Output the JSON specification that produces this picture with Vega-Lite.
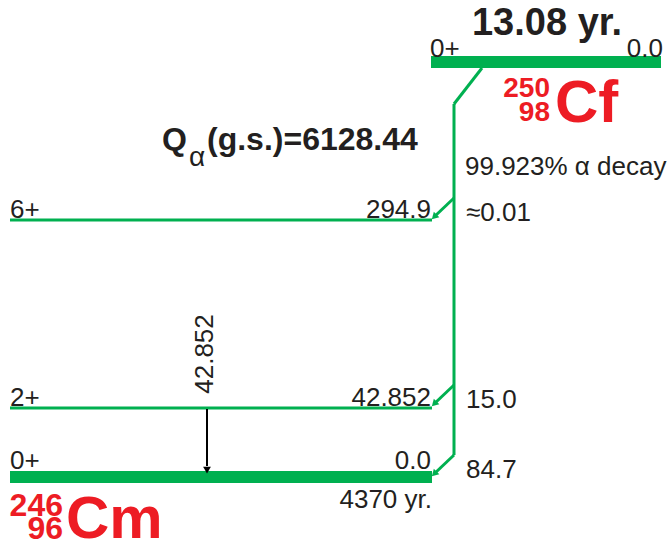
{
  "$schema": "https://vega.github.io/schema/vega-lite/v6.json",
  "width": 671,
  "height": 546,
  "padding": 0,
  "autosize": {"type": "none"},
  "config": {"view": {"stroke": null}, "text": {"font": "Liberation Sans"}},
  "datasets": {
    "levels": [
      {"level": "250Cf 0+", "x1": 431, "x2": 661, "e": 62, "kind": "ground"},
      {"level": "6+", "x1": 10, "x2": 432, "e": 220, "kind": "excited"},
      {"level": "2+", "x1": 10, "x2": 432, "e": 408, "kind": "excited"},
      {"level": "0+", "x1": 10, "x2": 432, "e": 477, "kind": "ground"}
    ],
    "decay": [
      {"x1": 482, "y1": 68, "x2": 454, "y2": 104},
      {"x1": 454, "y1": 104, "x2": 454, "y2": 455},
      {"x1": 454, "y1": 455, "x2": 434, "y2": 474},
      {"x1": 454, "y1": 198, "x2": 434, "y2": 217},
      {"x1": 454, "y1": 385, "x2": 434, "y2": 404}
    ],
    "heads": [
      {"x": 435, "y": 216},
      {"x": 435, "y": 403},
      {"x": 435, "y": 473}
    ],
    "gamma": [{"x": 207, "y1": 409, "y2": 466, "ax": 207, "ay": 469}],
    "leftText": [
      {"t": "0+", "x": 430, "y": 57},
      {"t": "6+", "x": 10, "y": 218},
      {"t": "2+", "x": 10, "y": 406},
      {"t": "0+", "x": 10, "y": 469},
      {"t": "99.923% α decay", "x": 465, "y": 175},
      {"t": "≈0.01", "x": 466, "y": 221},
      {"t": "15.0", "x": 466, "y": 408},
      {"t": "84.7", "x": 466, "y": 478}
    ],
    "rightText": [
      {"t": "0.0", "x": 663, "y": 57},
      {"t": "294.9", "x": 431, "y": 218},
      {"t": "42.852", "x": 431, "y": 406},
      {"t": "0.0", "x": 431, "y": 469},
      {"t": "4370 yr.", "x": 432, "y": 508}
    ],
    "gammaLabel": [{"t": "42.852", "x": 205, "y": 354}],
    "halfLife": [{"t": "13.08 yr.", "x": 547, "y": 35}],
    "qBold": [
      {"t": "Q", "x": 162, "y": 150},
      {"t": "(g.s.)=6128.44", "x": 207, "y": 150}
    ],
    "qSub": [{"t": "α", "x": 189, "y": 166}],
    "symbol": [
      {"t": "Cf", "x": 555, "y": 122},
      {"t": "Cm", "x": 66, "y": 538}
    ],
    "massCf": [
      {"t": "250", "x": 550, "y": 97},
      {"t": "98", "x": 550, "y": 121}
    ],
    "massCm": [
      {"t": "246", "x": 63, "y": 516},
      {"t": "96", "x": 63, "y": 539}
    ]
  },
  "layer": [
    {
      "data": {"name": "levels"},
      "mark": {"type": "rule", "color": "#00b050"},
      "encoding": {
        "x": {"field": "x1", "type": "quantitative", "scale": {"domain": [0, 671], "nice": false, "zero": false}, "axis": null},
        "x2": {"field": "x2"},
        "y": {"field": "e", "type": "quantitative", "scale": {"domain": [0, 546], "nice": false, "zero": false, "reverse": true}, "axis": null},
        "strokeWidth": {"field": "kind", "type": "nominal", "scale": {"domain": ["ground", "excited"], "range": [12, 3]}, "legend": null}
      }
    },
    {
      "data": {"name": "decay"},
      "mark": {"type": "rule", "color": "#00b050", "strokeWidth": 3, "strokeCap": "butt"},
      "encoding": {
        "x": {"field": "x1", "type": "quantitative"},
        "x2": {"field": "x2"},
        "y": {"field": "y1", "type": "quantitative"},
        "y2": {"field": "y2"}
      }
    },
    {
      "data": {"name": "heads"},
      "mark": {"type": "point", "shape": "triangle", "filled": true, "color": "#00b050", "opacity": 1, "size": 60, "angle": 225},
      "encoding": {
        "x": {"field": "x", "type": "quantitative"},
        "y": {"field": "y", "type": "quantitative"}
      }
    },
    {
      "data": {"name": "gamma"},
      "mark": {"type": "rule", "color": "#000000", "strokeWidth": 2},
      "encoding": {
        "x": {"field": "x", "type": "quantitative"},
        "y": {"field": "y1", "type": "quantitative"},
        "y2": {"field": "y2"}
      }
    },
    {
      "data": {"name": "gamma"},
      "mark": {"type": "point", "shape": "triangle", "filled": true, "color": "#000000", "opacity": 1, "size": 60, "angle": 180},
      "encoding": {
        "x": {"field": "ax", "type": "quantitative"},
        "y": {"field": "ay", "type": "quantitative"}
      }
    },
    {
      "data": {"name": "leftText"},
      "mark": {"type": "text", "align": "left", "baseline": "alphabetic", "fontSize": 26, "color": "#231f20"},
      "encoding": {
        "x": {"field": "x", "type": "quantitative"},
        "y": {"field": "y", "type": "quantitative"},
        "text": {"field": "t"}
      }
    },
    {
      "data": {"name": "rightText"},
      "mark": {"type": "text", "align": "right", "baseline": "alphabetic", "fontSize": 26, "color": "#231f20"},
      "encoding": {
        "x": {"field": "x", "type": "quantitative"},
        "y": {"field": "y", "type": "quantitative"},
        "text": {"field": "t"}
      }
    },
    {
      "data": {"name": "gammaLabel"},
      "mark": {"type": "text", "align": "center", "baseline": "middle", "fontSize": 26, "angle": 270, "color": "#231f20"},
      "encoding": {
        "x": {"field": "x", "type": "quantitative"},
        "y": {"field": "y", "type": "quantitative"},
        "text": {"field": "t"}
      }
    },
    {
      "data": {"name": "halfLife"},
      "mark": {"type": "text", "align": "center", "baseline": "alphabetic", "fontSize": 38, "fontWeight": "bold", "color": "#231f20"},
      "encoding": {
        "x": {"field": "x", "type": "quantitative"},
        "y": {"field": "y", "type": "quantitative"},
        "text": {"field": "t"}
      }
    },
    {
      "data": {"name": "qBold"},
      "mark": {"type": "text", "align": "left", "baseline": "alphabetic", "fontSize": 32, "fontWeight": "bold", "color": "#231f20"},
      "encoding": {
        "x": {"field": "x", "type": "quantitative"},
        "y": {"field": "y", "type": "quantitative"},
        "text": {"field": "t"}
      }
    },
    {
      "data": {"name": "qSub"},
      "mark": {"type": "text", "align": "left", "baseline": "alphabetic", "fontSize": 28, "color": "#231f20"},
      "encoding": {
        "x": {"field": "x", "type": "quantitative"},
        "y": {"field": "y", "type": "quantitative"},
        "text": {"field": "t"}
      }
    },
    {
      "data": {"name": "symbol"},
      "mark": {"type": "text", "align": "left", "baseline": "alphabetic", "fontSize": 60, "fontWeight": "bold", "color": "#ed1c24"},
      "encoding": {
        "x": {"field": "x", "type": "quantitative"},
        "y": {"field": "y", "type": "quantitative"},
        "text": {"field": "t"}
      }
    },
    {
      "data": {"name": "massCf"},
      "mark": {"type": "text", "align": "right", "baseline": "alphabetic", "fontSize": 28, "fontWeight": "bold", "color": "#ed1c24"},
      "encoding": {
        "x": {"field": "x", "type": "quantitative"},
        "y": {"field": "y", "type": "quantitative"},
        "text": {"field": "t"}
      }
    },
    {
      "data": {"name": "massCm"},
      "mark": {"type": "text", "align": "right", "baseline": "alphabetic", "fontSize": 32, "fontWeight": "bold", "color": "#ed1c24"},
      "encoding": {
        "x": {"field": "x", "type": "quantitative"},
        "y": {"field": "y", "type": "quantitative"},
        "text": {"field": "t"}
      }
    }
  ]
}
